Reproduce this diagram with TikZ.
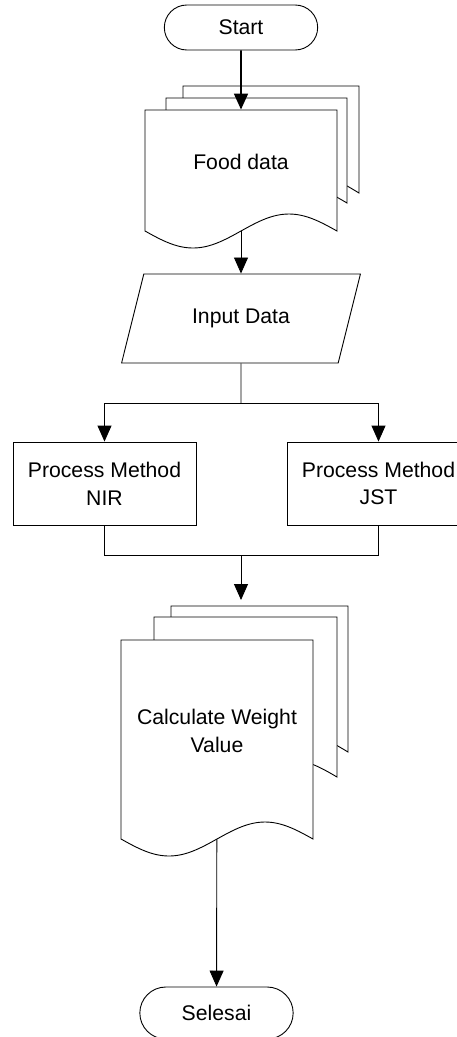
\documentclass[tikz,border=0pt]{standalone}
\usepackage{fontspec}
\setmainfont{Liberation Sans}
\usepackage{tikz}
\usetikzlibrary{shapes.geometric,shapes.misc,arrows.meta,calc,positioning}
\tikzstyle{terminal} = [rounded rectangle, minimum width=160pt, minimum height=45pt,
draw=black, fill=white]
\tikzstyle{io} = [trapezium, trapezium left angle=65, trapezium right angle=115,
trapezium stretches=true, minimum width=239pt, minimum height=89pt, text centered,
draw=black]
\tikzstyle{process} = [rectangle, minimum width=183pt, minimum height=83pt,
align=center, draw=black]
\tikzstyle{doc} = [rectangle, align=center, text depth=17pt]
\tikzstyle{arrow} = [-{Triangle[width=14pt,length=16pt]}]
\tikzstyle{thickarrow} = [arrow, line width=1.8pt]
% one page of a document stack: left, right, top, wave line
\newcommand{\docpage}[4]{%
  \draw[fill=white] (#1,#3) -- (#1,#4)
    sin ({#1+(#2-#1)/4},{#4+17}) cos ({#1+(#2-#1)/2},#4)
    sin ({#1+3*(#2-#1)/4},{#4-17}) cos (#2,#4) -- (#2,#3) -- cycle;}

\begin{document}
\begin{tikzpicture}[x=1pt, y=-1pt, line width=0.9pt,
    every node/.style={font=\fontsize{21.2}{27.7}\selectfont}]
    \clip (0,0) rectangle (457,1037);
    \node[terminal] (start) at (241,27.5) {Start};
    % food data stack
    \docpage{183}{359}{86}{193}
    \docpage{166}{347}{98}{203}
    \docpage{145}{337}{110}{231}
    \node[doc, minimum width=192pt, minimum height=121pt] (food) at (241,170.5) {Food data};
    \node[io] (input) at (241,318.5) {Input Data};
    \node[process] (nir) at (104.5,483.5) {Process Method\\NIR};
    \node[process] (jst) at (378.5,483.5) {Process Method\\JST};
    % weight stack
    \docpage{171}{348}{606}{752}
    \docpage{154}{337}{617}{777}
    \docpage{121}{313}{640}{839}
    \node[doc, minimum width=192pt, minimum height=199pt] (calc) at (217,739.5) {Calculate Weight\\Value};
    \node[terminal, minimum height=52pt] (end) at (216.5,1013) {Selesai};
    \coordinate (fork) at (241,403);
    \coordinate (join) at (241,555);
    \coordinate (calcin) at (241,600);
    \draw[thickarrow] (start) -- (food);
    \draw[arrow] (food) -- (input);
    \draw (input) -- (fork);
    \draw[arrow] (fork) -| (nir);
    \draw[arrow] (fork) -| (jst);
    \draw (nir) |- (join);
    \draw (jst) |- (join);
    \draw[arrow] (join) -- (calcin);
    \draw[arrow] (calc) -- (end);
\end{tikzpicture}
\end{document}
